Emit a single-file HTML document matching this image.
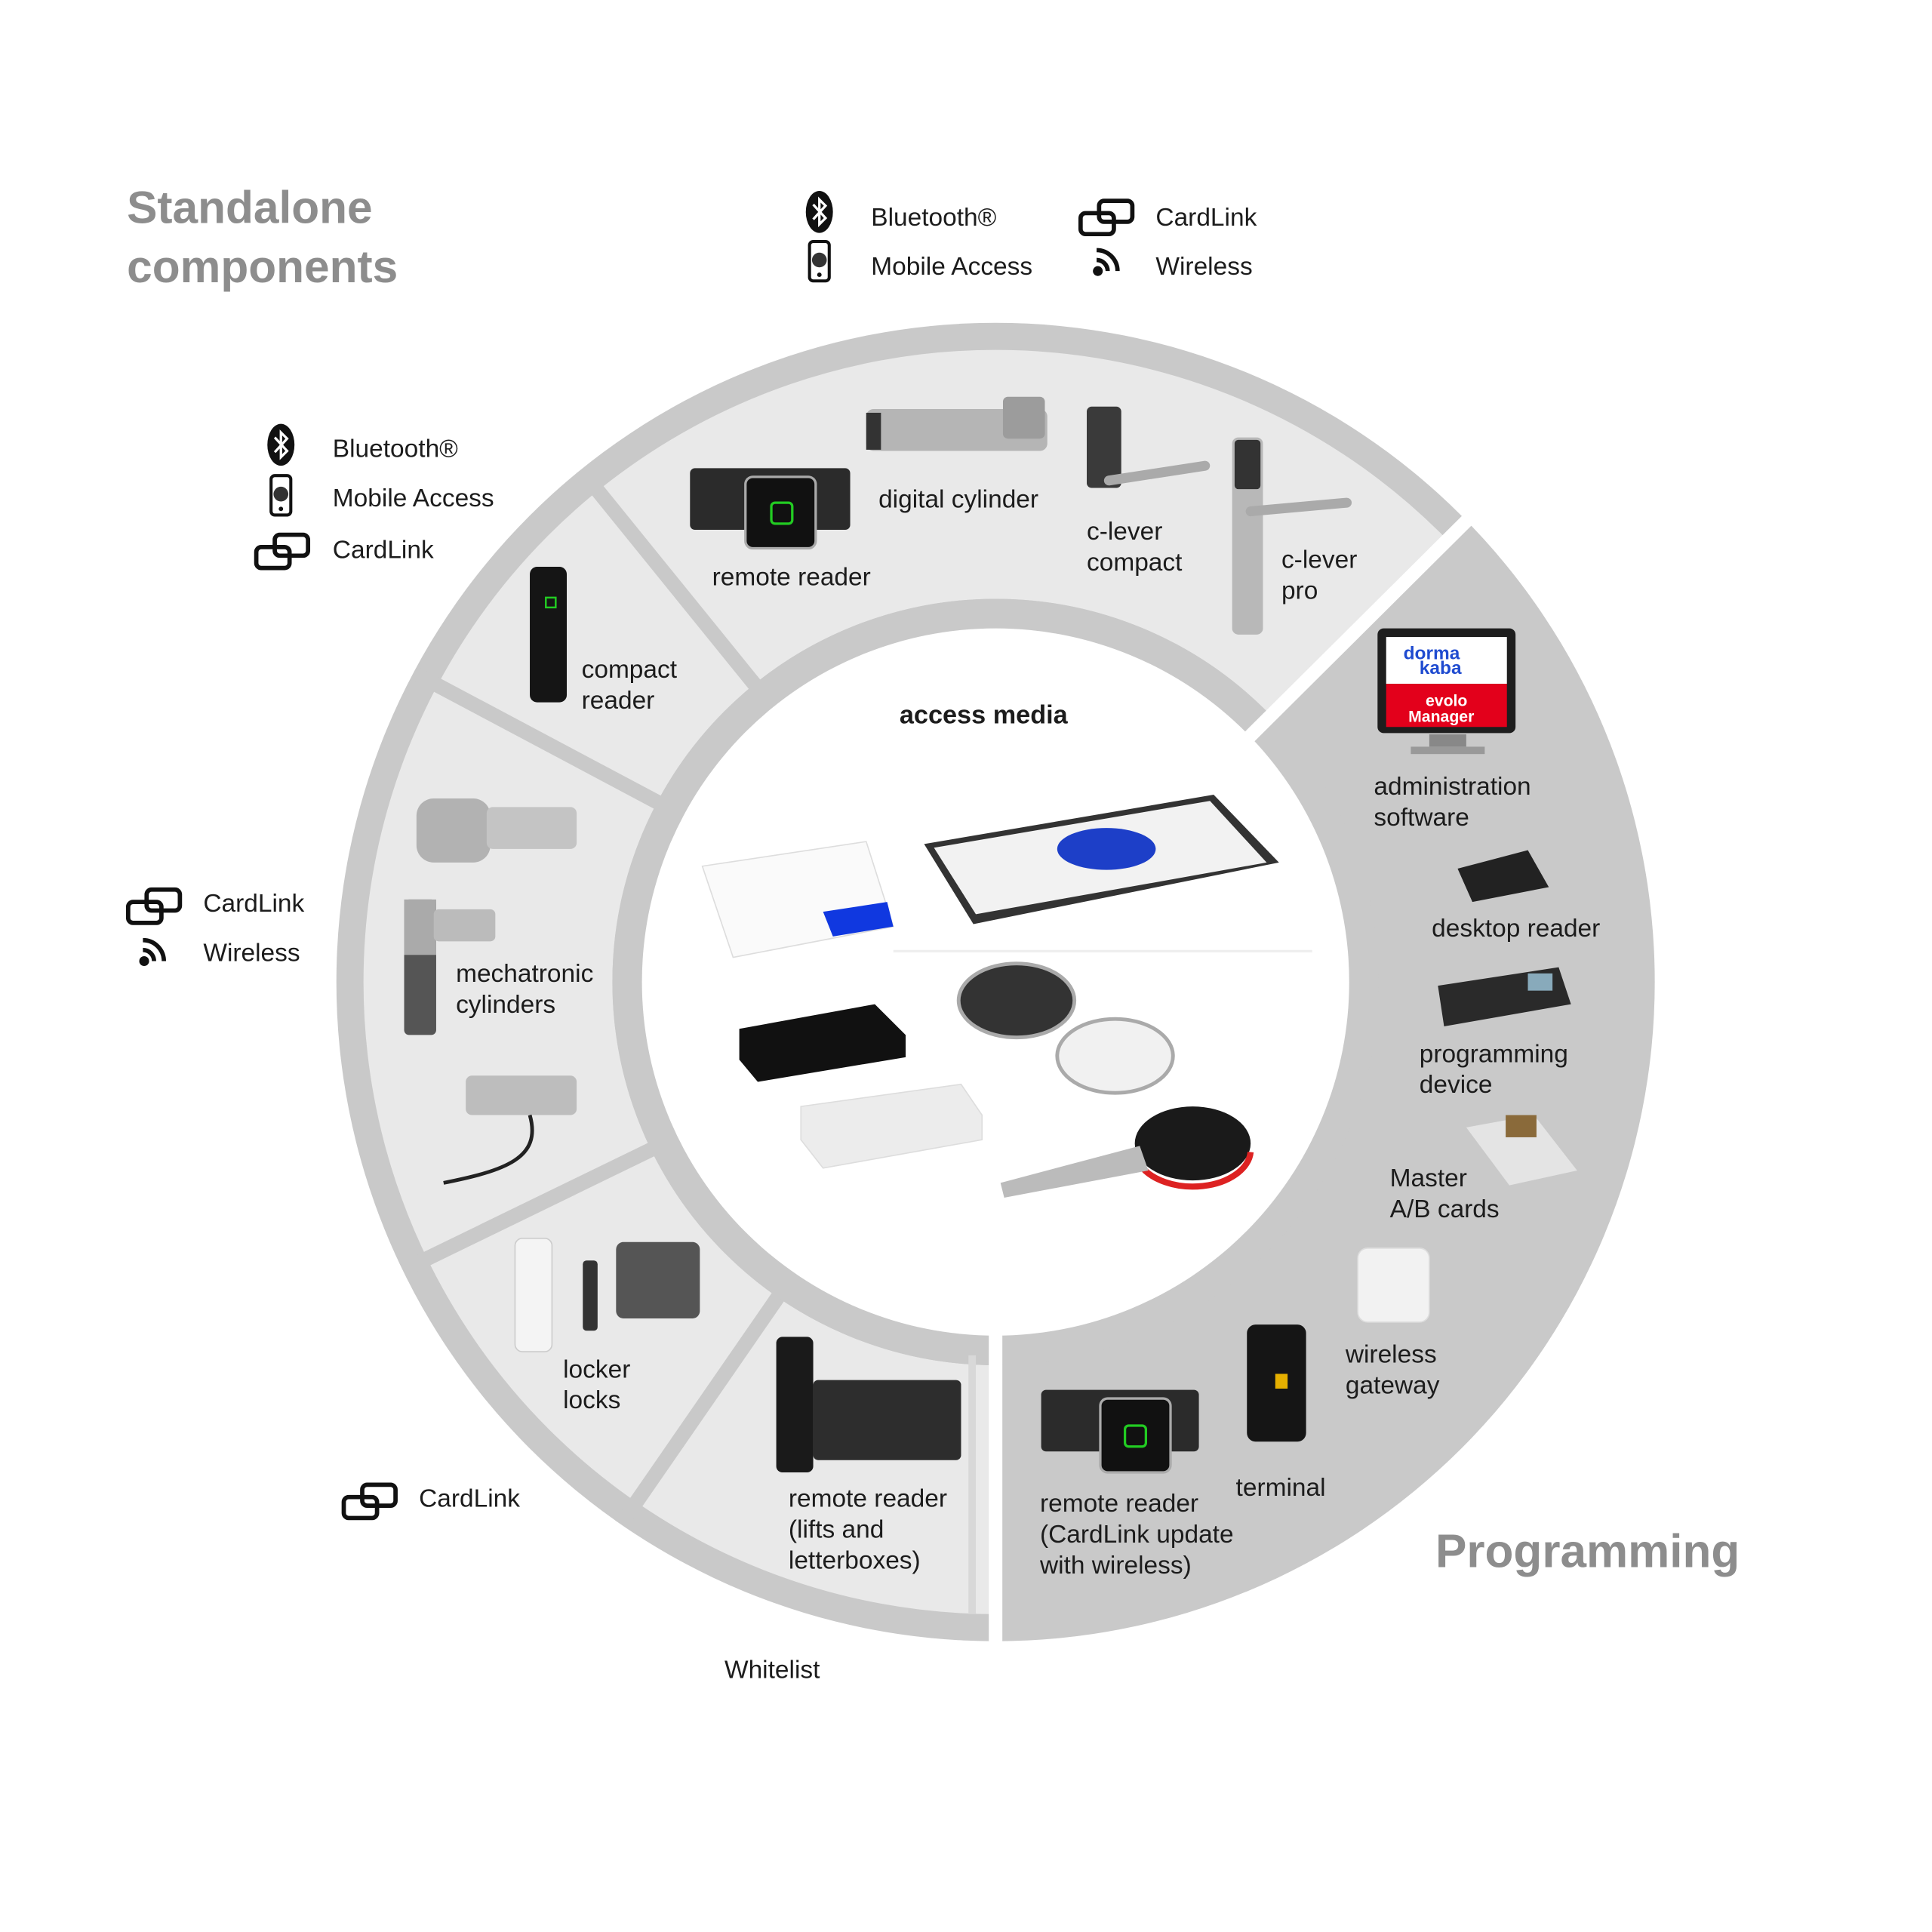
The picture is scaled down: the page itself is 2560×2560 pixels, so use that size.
<!DOCTYPE html>
<html><head><meta charset="utf-8"><style>
html,body{margin:0;padding:0;background:#fff;}
svg{display:block;}
text{font-family:"Liberation Sans",sans-serif;fill:#1c1c1c;}
.l{font-size:20.5px;}
</style></head><body>
<svg width="2560" height="2560" viewBox="0 0 1568 1568" xmlns="http://www.w3.org/2000/svg">
<defs>
<g id="bt"><ellipse cx="0" cy="0" rx="11" ry="17" fill="#111"/><path d="M-5,-6 L5,5 L0,10 L0,-10 L5,-5 L-5,6" fill="none" stroke="#fff" stroke-width="2"/></g>
<g id="ph"><rect x="-8" y="-16" width="16" height="32" rx="3" fill="#fff" stroke="#111" stroke-width="2.5"/><circle cx="0" cy="-1" r="6" fill="#333"/><circle cx="0" cy="11" r="1.8" fill="#111"/></g>
<g id="cl"><rect x="-21" y="-5" width="27" height="17" rx="4" fill="none" stroke="#111" stroke-width="3.5"/><rect x="-6" y="-15" width="27" height="17" rx="4" fill="none" stroke="#111" stroke-width="3.5"/></g>
<g id="wl"><circle cx="-6" cy="8" r="4" fill="#111"/><path d="M-7,-1 A9,9 0 0 1 2,8" fill="none" stroke="#111" stroke-width="3.5"/><path d="M-7,-9 A17,17 0 0 1 10,8" fill="none" stroke="#111" stroke-width="3.5"/></g>
<clipPath id="sa"><polygon points="808,797 808,1600 -100,1600 -100,-200 1743,-106"/></clipPath>
<clipPath id="circ"><circle cx="808" cy="797" r="535"/></clipPath>
</defs>

<!-- ring -->
<circle cx="808" cy="797" r="535" fill="#c9c9c9"/>
<g clip-path="url(#sa)">
<circle cx="808" cy="797" r="412" fill="none" stroke="#e9e9e9" stroke-width="202"/>
</g>
<g stroke="#c9c9c9" stroke-width="12" clip-path="url(#circ)">
<line x1="808" y1="797" x2="502" y2="1240" />
<line x1="808" y1="797" x2="327" y2="1031"/>
<line x1="808" y1="797" x2="336" y2="546"/>
<line x1="808" y1="797" x2="472" y2="382"/>
</g>
<circle cx="808" cy="797" r="311" fill="#c9c9c9"/>
<g stroke="#fff" stroke-width="11">
<line x1="808" y1="1000" x2="808" y2="1340"/>
<line x1="1010" y1="602" x2="1195" y2="418"/>
</g>
<rect x="786" y="1100" width="6" height="210" fill="#d8d8d8"/>
<circle cx="808" cy="797" r="287" fill="#fff"/>
<line x1="725" y1="772" x2="1065" y2="772" stroke="#eee" stroke-width="2"/>

<!-- titles -->
<text x="103" y="181" style="font-size:37px;font-weight:bold;fill:#8d8d8d">Standalone</text>
<text x="103" y="229" style="font-size:37px;font-weight:bold;fill:#8d8d8d">components</text>
<text x="1165" y="1272" style="font-size:38px;font-weight:bold;fill:#8d8d8d">Programming</text>

<!-- legends -->
<use href="#bt" x="665" y="172"/><use href="#ph" x="665" y="212"/>
<use href="#cl" x="898" y="178"/><use href="#wl" x="897" y="212"/>
<text class="l" x="707" y="183">Bluetooth®</text><text class="l" x="707" y="223">Mobile Access</text>
<text class="l" x="938" y="183">CardLink</text><text class="l" x="938" y="223">Wireless</text>

<use href="#bt" x="228" y="361"/><use href="#ph" x="228" y="402"/><use href="#cl" x="229" y="449"/>
<text class="l" x="270" y="371">Bluetooth®</text><text class="l" x="270" y="411">Mobile Access</text><text class="l" x="270" y="453">CardLink</text>

<use href="#cl" x="125" y="737"/><use href="#wl" x="123" y="772"/>
<text class="l" x="165" y="740">CardLink</text><text class="l" x="165" y="780">Wireless</text>
<use href="#cl" x="300" y="1220"/>
<text class="l" x="340" y="1223">CardLink</text>
<text class="l" x="588" y="1362">Whitelist</text>

<!-- products standalone -->
<rect x="560" y="380" width="130" height="50" rx="4" fill="#2b2b2b"/>
<rect x="605" y="387" width="57" height="58" rx="6" fill="#111" stroke="#aaa" stroke-width="2"/>
<rect x="626" y="408" width="17" height="17" rx="3" fill="none" stroke="#2c2" stroke-width="2"/>
<rect x="703" y="332" width="147" height="34" rx="6" fill="#b5b5b5"/>
<rect x="703" y="335" width="12" height="30" fill="#333"/>
<rect x="814" y="322" width="34" height="34" rx="4" fill="#9c9c9c"/>
<rect x="882" y="330" width="28" height="66" rx="4" fill="#3a3a3a"/>
<path d="M900,390 L978,378" stroke="#aaa" stroke-width="8" stroke-linecap="round"/>
<rect x="1000" y="355" width="25" height="160" rx="5" fill="#b8b8b8"/>
<rect x="1002" y="357" width="21" height="40" rx="3" fill="#333"/>
<path d="M1015,415 L1093,408" stroke="#aaa" stroke-width="8" stroke-linecap="round"/>
<rect x="430" y="460" width="30" height="110" rx="6" fill="#151515"/>
<rect x="443" y="485" width="8" height="8" fill="none" stroke="#2c2" stroke-width="1.5"/>
<rect x="338" y="648" width="60" height="52" rx="14" fill="#b2b2b2"/>
<rect x="395" y="655" width="73" height="34" rx="5" fill="#c4c4c4"/>
<rect x="328" y="730" width="26" height="110" rx="4" fill="#555"/>
<rect x="328" y="730" width="26" height="45" fill="#aaa"/>
<rect x="352" y="738" width="50" height="26" rx="4" fill="#bbb"/>
<rect x="378" y="873" width="90" height="32" rx="5" fill="#bdbdbd"/>
<path d="M430,905 C440,940 410,950 360,960" stroke="#222" stroke-width="3" fill="none"/>
<rect x="418" y="1005" width="30" height="92" rx="6" fill="#f4f4f4" stroke="#ccc"/>
<rect x="473" y="1023" width="12" height="57" rx="3" fill="#333"/>
<rect x="500" y="1008" width="68" height="62" rx="6" fill="#555"/>
<rect x="630" y="1085" width="30" height="110" rx="5" fill="#1a1a1a"/>
<rect x="660" y="1120" width="120" height="65" rx="4" fill="#2d2d2d"/>

<!-- products programming -->
<rect x="845" y="1128" width="128" height="50" rx="4" fill="#2b2b2b"/>
<rect x="893" y="1135" width="57" height="60" rx="6" fill="#111" stroke="#aaa" stroke-width="2"/>
<rect x="913" y="1157" width="17" height="17" rx="3" fill="none" stroke="#2c2" stroke-width="2"/>
<rect x="1012" y="1075" width="48" height="95" rx="7" fill="#151515"/>
<rect x="1035" y="1115" width="10" height="12" fill="#e6b000"/>
<rect x="1102" y="1013" width="58" height="60" rx="8" fill="#f2f2f2" stroke="#ddd"/>
<polygon points="1190,915 1245,905 1280,950 1225,962" fill="#e4e4e4"/>
<rect x="1222" y="905" width="25" height="18" fill="#8a6a3a"/>
<polygon points="1167,800 1265,785 1275,815 1172,833" fill="#2a2a2a"/>
<rect x="1240" y="790" width="20" height="14" fill="#8ab"/>
<polygon points="1183,705 1240,690 1257,720 1195,732" fill="#222"/>
<rect x="1118" y="510" width="112" height="85" rx="5" fill="#1e1e1e"/>
<rect x="1125" y="517" width="98" height="38" fill="#fff"/>
<rect x="1125" y="555" width="98" height="35" fill="#e3001b"/>
<rect x="1160" y="596" width="30" height="10" fill="#888"/><rect x="1145" y="606" width="60" height="6" fill="#999"/>
<text x="1139" y="535" style="font-size:15px;font-weight:bold;fill:#1f4bd0">dorma</text>
<text x="1152" y="547" style="font-size:15px;font-weight:bold;fill:#1f4bd0">kaba</text>
<text x="1157" y="573" style="font-size:13px;font-weight:bold;fill:#fff">evolo</text>
<text x="1143" y="586" style="font-size:13px;font-weight:bold;fill:#fff">Manager</text>

<!-- access media -->
<text x="730" y="587" style="font-size:21px;font-weight:bold">access media</text>
<polygon points="570,703 703,683 725,752 595,777" fill="#fafafa" stroke="#ddd"/>
<polygon points="668,740 720,732 725,752 676,760" fill="#1038e0"/>
<polygon points="750,685 985,645 1038,700 790,750" fill="#333"/>
<polygon points="758,688 982,650 1028,700 792,742" fill="#f2f2f2"/>
<ellipse cx="898" cy="689" rx="40" ry="17" fill="#1d3fc8"/>
<ellipse cx="825" cy="812" rx="47" ry="30" fill="#333" stroke="#aaa" stroke-width="3"/>
<ellipse cx="905" cy="857" rx="47" ry="30" fill="#f1f1f1" stroke="#aaa" stroke-width="3"/>
<polygon points="600,835 710,815 735,840 735,858 615,878 600,860" fill="#111"/>
<polygon points="650,898 780,880 797,905 797,925 668,948 650,925" fill="#ececec" stroke="#ddd"/>
<ellipse cx="968" cy="928" rx="47" ry="30" fill="#1a1a1a"/>
<path d="M925,945 A47,30 0 0 0 1015,935" stroke="#d22" stroke-width="5" fill="none"/>
<polygon points="812,960 925,930 932,950 815,972" fill="#bbb"/>

<!-- labels -->
<g class="l">
<text class="l" x="578" y="475">remote reader</text>
<text class="l" x="713" y="412">digital cylinder</text>
<text class="l" x="882" y="438">c-lever</text><text class="l" x="882" y="463">compact</text>
<text class="l" x="1040" y="461">c-lever</text><text class="l" x="1040" y="486">pro</text>
<text class="l" x="472" y="550">compact</text><text class="l" x="472" y="575">reader</text>
<text class="l" x="370" y="797">mechatronic</text><text class="l" x="370" y="822">cylinders</text>
<text class="l" x="457" y="1118">locker</text><text class="l" x="457" y="1143">locks</text>
<text class="l" x="640" y="1223">remote reader</text><text class="l" x="640" y="1248">(lifts and</text><text class="l" x="640" y="1273">letterboxes)</text>
<text class="l" x="844" y="1227">remote reader</text><text class="l" x="844" y="1252">(CardLink update</text><text class="l" x="844" y="1277">with wireless)</text>
<text class="l" x="1003" y="1214">terminal</text>
<text class="l" x="1092" y="1106">wireless</text><text class="l" x="1092" y="1131">gateway</text>
<text class="l" x="1128" y="963">Master</text><text class="l" x="1128" y="988">A/B cards</text>
<text class="l" x="1152" y="862">programming</text><text class="l" x="1152" y="887">device</text>
<text class="l" x="1162" y="760">desktop reader</text>
<text class="l" x="1115" y="645">administration</text><text class="l" x="1115" y="670">software</text>
</g>
</svg>
</body></html>
